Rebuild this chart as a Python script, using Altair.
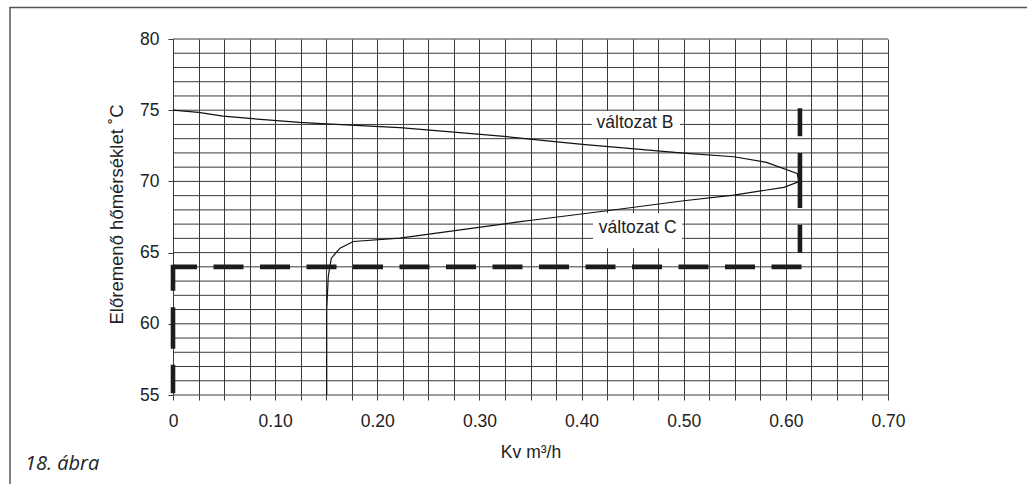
import altair as alt
import pandas as pd

# ---- data ----
kv = [0.000, 0.025, 0.049, 0.075, 0.124, 0.150, 0.222, 0.275, 0.327, 0.376,
      0.401, 0.477, 0.503, 0.549, 0.581, 0.611, 0.613,
      0.598, 0.549, 0.500, 0.425, 0.353, 0.340, 0.222, 0.1765, 0.1635,
      0.155, 0.152, 0.1505, 0.1505]
temp = [75.00, 74.85, 74.58, 74.42, 74.14, 74.04, 73.78, 73.46, 73.14, 72.78,
        72.60, 72.13, 71.97, 71.73, 71.34, 70.56, 69.98,
        69.58, 69.04, 68.64, 67.94, 67.29, 67.17, 66.01, 65.78, 65.31,
        64.61, 63.34, 61.00, 55.00]

x_tick_values = [0.000, 0.025, 0.050, 0.075, 0.100, 0.125, 0.150, 0.175, 0.200,
                 0.225, 0.250, 0.275, 0.300, 0.325, 0.350, 0.375, 0.400, 0.425,
                 0.450, 0.475, 0.500, 0.525, 0.550, 0.575, 0.600, 0.625, 0.650,
                 0.675, 0.700]
y_major = [55, 60, 65, 70, 75, 80]
y_minor = [55, 56, 57, 58, 59, 60, 61, 62, 63, 64, 65, 66, 67, 68, 69, 70,
           71, 72, 73, 74, 75, 76, 77, 78, 79, 80]

label_text = ["változat B", "változat C"]
label_kv = [0.4523, 0.455]
label_t = [74.08, 66.75]
box_kv1 = [0.4099, 0.4112]
box_kv2 = [0.4964, 0.4984]
box_t1 = [74.95, 67.77]
box_t2 = [73.05, 65.30]

# dashed operating-point lines
h_kv = [0.0]
h_kv2 = [0.6158]
h_t = [64.0]
rv_kv = [0.6138]
rv_t = [75.13]
rv_t2 = [64.95]
lv_kv = [0.0]
lv_t = [64.15]
lv_t2 = [55.0]

FONT = "Liberation Sans"
INK = "#222222"
GRID = "#3a3a3a"

curve_df = pd.DataFrame({"kv": kv, "t": temp, "i": list(range(len(kv)))})
minor_df = pd.DataFrame({"t": y_minor})
lab_df = pd.DataFrame({"kv": label_kv, "t": label_t, "label": label_text})
box_df = pd.DataFrame({"kv": box_kv1, "kv2": box_kv2, "t": box_t1, "t2": box_t2})
h_df = pd.DataFrame({"kv": h_kv, "kv2": h_kv2, "t": h_t})
rv_df = pd.DataFrame({"kv": rv_kv, "t": rv_t, "t2": rv_t2})
lv_df = pd.DataFrame({"kv": lv_kv, "t": lv_t, "t2": lv_t2})
one = pd.DataFrame({"a": [0]})

x_scale = alt.Scale(domain=[0, 0.7], nice=False, zero=False)
y_scale = alt.Scale(domain=[55, 80], nice=False, zero=False)

x_axis = alt.Axis(
    values=x_tick_values, grid=True, gridColor=GRID, gridWidth=1, gridOpacity=1,
    domain=False, ticks=True, tickColor=GRID, tickSize=5, tickWidth=1,
    labelExpr="datum.value == 0 ? '0' : (abs(datum.value*10 - round(datum.value*10)) < 0.000001 ? format(datum.value, '.2f') : '')",
    labelFlush=False, labelOverlap=False, labelFont=FONT, labelFontSize=17.5,
    labelColor=INK, labelPadding=21, labelBaseline="middle",
    title="Kv m³/h", titleFont=FONT, titleFontSize=17.5, titleFontWeight="normal",
    titleColor=INK, titleX=357.5, titleY=57, titleBaseline="middle", titleAlign="center",
)
y_axis = alt.Axis(
    values=y_major, grid=False,
    domain=False, ticks=True, tickColor=GRID, tickSize=5, tickWidth=1,
    labelFont=FONT, labelFontSize=17.5, labelColor=INK, labelPadding=9,
    labelOverlap=False,
    title="Előremenő hőmérséklet ˚C", titleFont=FONT, titleFontSize=18.5,
    titleFontWeight="normal", titleColor=INK, titleX=-57, titleY=175,
    titleAngle=270, titleBaseline="middle", titleAlign="center",
)

X = lambda f: alt.X(f, type="quantitative", scale=x_scale, axis=x_axis)
Y = lambda f: alt.Y(f, type="quantitative", scale=y_scale, axis=y_axis)

minor = alt.Chart(minor_df).mark_rule(color=GRID, strokeWidth=1).encode(y=Y("t"))

boxes = alt.Chart(box_df).mark_rect(color="white", opacity=1).encode(
    x=X("kv"), x2="kv2", y=Y("t"), y2="t2")

curve = alt.Chart(curve_df).mark_line(color="#111111", strokeWidth=1.2).encode(
    x=X("kv"), y=Y("t"), order="i:Q")

hline = alt.Chart(h_df).mark_rule(
    color="#1c1c1c", strokeWidth=4.6, strokeCap="butt",
    strokeDash=[30, 16.5], strokeDashOffset=6).encode(
    x=X("kv"), x2="kv2", y=Y("t"))

rvline = alt.Chart(rv_df).mark_rule(
    color="#1c1c1c", strokeWidth=4.6, strokeCap="butt",
    strokeDash=[28, 16.7, 55, 16.7, 28, 60]).encode(
    x=X("kv"), y=Y("t"), y2="t2")

lvline = alt.Chart(lv_df).mark_rule(
    color="#1c1c1c", strokeWidth=4.6, strokeCap="butt",
    strokeDash=[26, 16.5, 41.5, 16, 28.5, 60]).encode(
    x=X("kv"), y=Y("t"), y2="t2")

labels = alt.Chart(lab_df).mark_text(
    font=FONT, fontSize=17.5, color=INK, align="center", baseline="middle").encode(
    x=X("kv"), y=Y("t"), text="label:N")

frame_v = alt.Chart(one).mark_rule(color="#555555", strokeWidth=1.5).encode(
    x=alt.value(-163), y=alt.value(-31.5), y2=alt.value(460))
frame_h = alt.Chart(one).mark_rule(color="#555555", strokeWidth=1.5).encode(
    x=alt.value(-163.75), x2=alt.value(860), y=alt.value(-31.5))

fig_label = alt.Chart(one).mark_text(
    text="18. ábra", font="Open Sans", fontStyle="italic", fontSize=20,
    color=INK, align="left", baseline="alphabetic").encode(
    x=alt.value(-148), y=alt.value(431))

chart = alt.layer(
    minor, boxes, curve, hline, rvline, lvline, labels, frame_v, frame_h, fig_label
).properties(
    width=715, height=356,
    autosize=alt.AutoSizeParams(type="none"),
    padding={"left": 173, "top": 39, "right": 139, "bottom": 89},
    background="white",
).configure_view(stroke="transparent")

chart.save("out.html", embed_options={"renderer": "svg", "actions": False})
